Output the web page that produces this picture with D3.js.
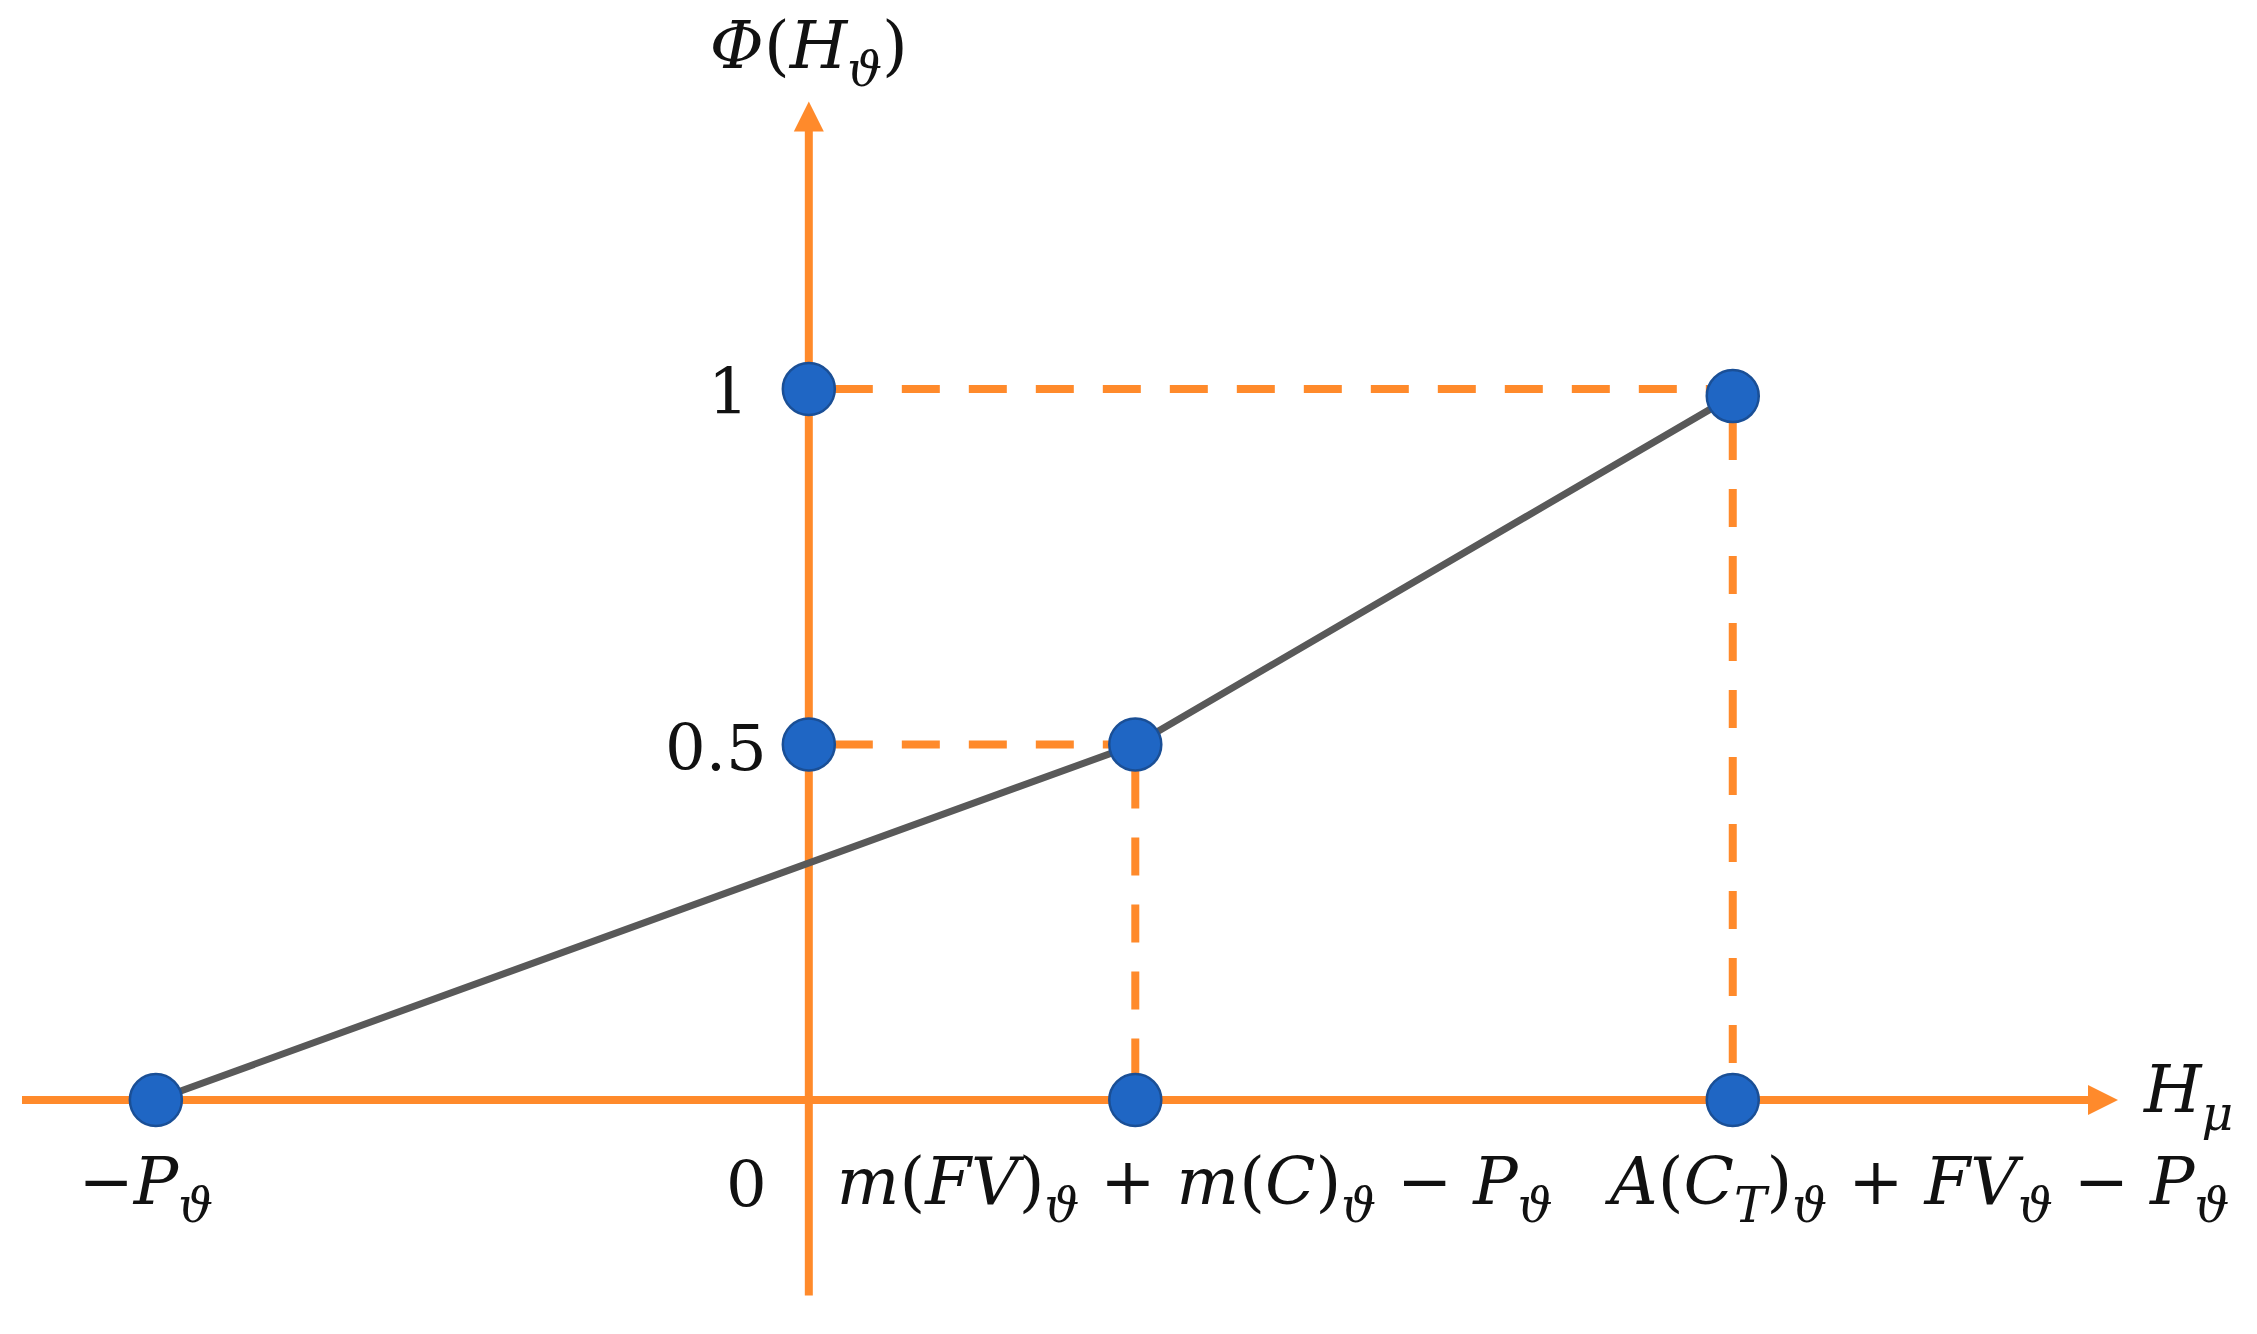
<!DOCTYPE html>
<html>
<head>
<meta charset="utf-8">
<script src="https://cdn.jsdelivr.net/npm/d3@7"></script>
<style>
  body { margin: 0; background: #fff; }
  text { font-family: "DejaVu Serif", "Liberation Serif", serif; fill: #111; white-space: pre; }
</style>
</head>
<body>
<div id="chart"></div>
<script>
// data (x in abstract units, 0 = origin)
var curveX = [-2, 1, 2.83];
var curveY = [0, 0.5, 0.99];
var yTicks = [0.5, 1];
var yTickLabels = ["0.5", "1"];
// pieces: [text, style]  r = roman, i = italic, s = italic subscript
var xLabels = [
  [["−", "r"], ["P", "i"], ["ϑ", "s"]],
  [["m", "i"], ["(", "r"], ["FV", "i"], [")", "r"], ["ϑ", "s"], [" + ", "r"], ["m", "i"], ["(", "r"], ["C", "i"], [")", "r"], ["ϑ", "s"], [" − ", "r"], ["P", "i"], ["ϑ", "s"]],
  [["A", "i"], ["(", "r"], ["C", "i"], ["T", "s"], [")", "r"], ["ϑ", "s"], [" + ", "r"], ["FV", "i"], ["ϑ", "s"], [" − ", "r"], ["P", "i"], ["ϑ", "s"]]
];
var yTitle = [["Φ", "i"], ["(", "r"], ["H", "i"], ["ϑ", "s"], [")", "r"]];
var xTitle = [["H", "i"], ["μ", "s"]];

var W = 2257, H = 1334;
var orange = "#ff8a2b", blue = "#1f66c4", gray = "#595959";
var fs = 66, fsNum = 64;

var svg = d3.select("#chart").append("svg")
    .attr("width", W)
    .attr("height", H);

// scales
var x = d3.scaleLinear().domain([-2.41, 4.01]).range([22, 2118]);
var y = d3.scaleLinear().domain([0, 1]).range([1100, 389]);
var yMin = -0.275, yMax = 1.4;

// x axis + arrow
svg.append("line")
    .attr("x1", x(-2.41)).attr("x2", x(4.01) - 20)
    .attr("y1", y(0)).attr("y2", y(0))
    .attr("stroke", orange).attr("stroke-width", 8);
svg.append("path")
    .attr("d", "M" + x(4.01) + "," + y(0) + "l-30,-15l0,30z")
    .attr("fill", orange);

// y axis + arrow
svg.append("line")
    .attr("x1", x(0)).attr("x2", x(0))
    .attr("y1", y(yMin)).attr("y2", y(yMax) + 20)
    .attr("stroke", orange).attr("stroke-width", 8);
svg.append("path")
    .attr("d", "M" + x(0) + "," + (y(yMax) - 3) + "l-15,30l30,0z")
    .attr("fill", orange);

// dashed guides
var guides = [
  [0, 0.5, curveX[1], 0.5],
  [curveX[1], curveY[1], curveX[1], 0],
  [0, 1, curveX[2], 1],
  [curveX[2], curveY[2], curveX[2], 0]
];
svg.selectAll(".guide")
    .data(guides)
  .enter().append("line")
    .attr("class", "guide")
    .attr("x1", function(d) { return x(d[0]); })
    .attr("y1", function(d) { return y(d[1]); })
    .attr("x2", function(d) { return x(d[2]); })
    .attr("y2", function(d) { return y(d[3]); })
    .attr("stroke", orange)
    .attr("stroke-width", 8)
    .attr("stroke-dasharray", "38,29")
    .attr("stroke-dashoffset", 41);

// the curve
var pts = curveX.map(function(v, i) { return [v, curveY[i]]; });
svg.append("path")
    .datum(pts)
    .attr("d", d3.line().x(function(d) { return x(d[0]); }).y(function(d) { return y(d[1]); }))
    .attr("fill", "none")
    .attr("stroke", gray)
    .attr("stroke-width", 7);

// dots
var dots = pts.concat(
  yTicks.map(function(v) { return [0, v]; }),
  [[curveX[1], 0], [curveX[2], 0]]
);
svg.selectAll(".dot")
    .data(dots)
  .enter().append("circle")
    .attr("class", "dot")
    .attr("cx", function(d) { return x(d[0]); })
    .attr("cy", function(d) { return y(d[1]); })
    .attr("r", 26)
    .attr("fill", blue)
    .attr("stroke", "#1a4f96")
    .attr("stroke-width", 2.5);

// math text helper
function mathText(sel, parts) {
  var shift = 0;
  parts.forEach(function(p) {
    var sub = p[1] == "s" ? fs * 0.28 : 0;
    sel.append("tspan")
        .attr("dy", sub - shift)
        .style("font-style", p[1] == "r" ? "normal" : "italic")
        .style("font-size", (p[1] == "s" ? fs * 0.74 : fs) + "px")
        .text(p[0]);
    shift = sub;
  });
}

// y tick labels
svg.selectAll(".ylab")
    .data(yTicks)
  .enter().append("text")
    .attr("class", "ylab")
    .attr("x", function(d, i) { return x(0) - (i == 1 ? 60 : 42); })
    .attr("y", function(d) { return y(d) + 25; })
    .attr("text-anchor", "end")
    .style("font-size", fsNum + "px")
    .text(function(d, i) { return yTickLabels[i]; });

// origin label
svg.append("text")
    .attr("x", x(0) - 42)
    .attr("y", y(0) + 107)
    .attr("text-anchor", "end")
    .style("font-size", fsNum + "px")
    .text("0");

// x labels under the points
var xLabelPos = [
  { v: curveX[0], anchor: "middle", dx: -10 },
  { v: 0, anchor: "start", dx: 28 },
  { v: curveX[2], anchor: "middle", dx: 187 }
];
xLabels.forEach(function(lab, i) {
  var t = svg.append("text")
      .attr("x", x(xLabelPos[i].v) + xLabelPos[i].dx)
      .attr("y", y(0) + 104)
      .attr("text-anchor", xLabelPos[i].anchor);
  mathText(t, lab);
});

// axis titles
var t1 = svg.append("text")
    .attr("x", x(0))
    .attr("y", 68)
    .attr("text-anchor", "middle");
mathText(t1, yTitle);

var t2 = svg.append("text")
    .attr("x", x(4.01) + 26)
    .attr("y", y(0) + 12)
    .attr("text-anchor", "start");
mathText(t2, xTitle);
</script>
</body>
</html>
